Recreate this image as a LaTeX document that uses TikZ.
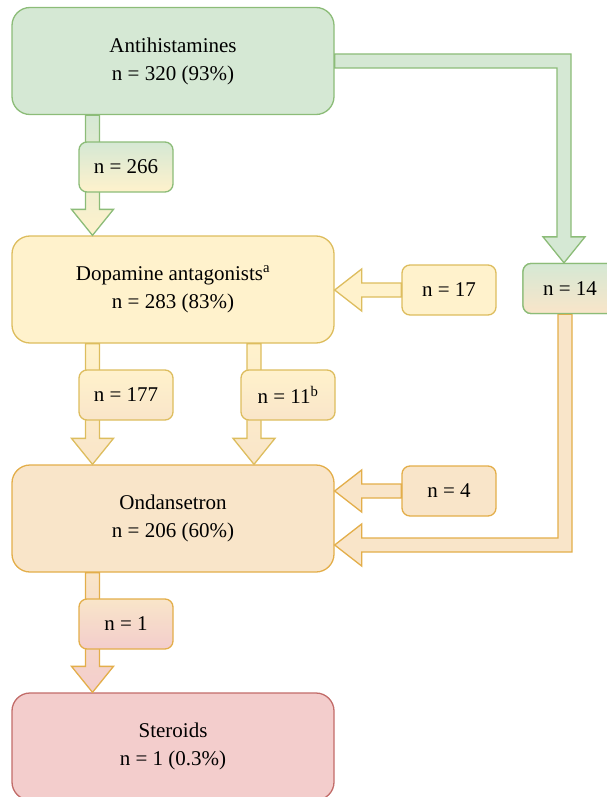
\documentclass[tikz,border=0pt]{standalone}
\usepackage{fontspec}
\setmainfont{Liberation Serif}
\usepackage{tikz}
\usetikzlibrary{calc}
\definecolor{grfill}{HTML}{D5E8D4}
\definecolor{grline}{HTML}{8CBC78}
\definecolor{yefill}{HTML}{FFF2CC}
\definecolor{yeline}{HTML}{DDBD5E}
\definecolor{orfill}{HTML}{F9E5C9}
\definecolor{orline}{HTML}{E3AE4A}
\definecolor{rdfill}{HTML}{F3CDCC}
\definecolor{rdline}{HTML}{C26C69}
\newcommand{\fs}{\fontsize{21}{28}\selectfont}
% block arrow pointing down: style, start, tip
\newcommand{\downblk}[3]{%
  \draw[#1] ($(#2)+(-7,0)$) -- ($(#3)+(-7,-26)$) -- ($(#3)+(-21,-26)$) -- (#3)
    -- ($(#3)+(21,-26)$) -- ($(#3)+(7,-26)$) -- ($(#2)+(7,0)$) -- cycle;}
% block arrow pointing left: style, start, tip
\newcommand{\leftblk}[3]{%
  \draw[#1] ($(#2)+(0,-7)$) -- ($(#3)+(27,-7)$) -- ($(#3)+(27,-21)$) -- (#3)
    -- ($(#3)+(27,21)$) -- ($(#3)+(27,7)$) -- ($(#2)+(0,7)$) -- cycle;}

\begin{document}
\begin{tikzpicture}[x=1pt, y=-1pt,
    bigbox/.style={draw, rounded corners=18pt, minimum width=322pt, minimum height=107pt,
      line width=1.3pt, align=center, font=\fs},
    lblbox/.style={draw, rounded corners=8pt, minimum width=94pt, minimum height=50pt,
      line width=1.3pt, font=\fs},
    flow/.style={line width=1.3pt, line join=miter}]
  \useasboundingbox (0,0) rectangle (606,797);

  % main boxes
  \node[bigbox, fill=grfill, draw=grline] (anti) at (173,61) {Antihistamines\\n = 320 (93\%)};
  \node[bigbox, fill=yefill, draw=yeline] (dopa) at (173,289.5) {Dopamine antagonists\textsuperscript{a}\\n = 283 (83\%)};
  \node[bigbox, fill=orfill, draw=orline] (onda) at (173,518.5) {Ondansetron\\n = 206 (60\%)};
  \node[bigbox, fill=rdfill, draw=rdline] (ster) at (173,746.5) {Steroids\\n = 1 (0.3\%)};

  % columns and bends of the connectors
  \coordinate (colA) at (92.5,0);
  \coordinate (colB) at (254,0);
  \coordinate (bendA) at (564,61);
  \coordinate (bendB) at (565,545);

  % vertical connectors
  \downblk{flow, draw=grline, top color=grfill, bottom color=yefill}{anti.south -| colA}{dopa.north -| colA}
  \downblk{flow, draw=yeline, top color=yefill, bottom color=orfill}{dopa.south -| colA}{onda.north -| colA}
  \downblk{flow, draw=yeline, top color=yefill, bottom color=orfill}{dopa.south -| colB}{onda.north -| colB}
  \downblk{flow, draw=orline, top color=orfill, bottom color=rdfill}{onda.south -| colA}{ster.north -| colA}

  % side boxes
  \node[lblbox, fill=yefill, draw=yeline] (n17) at (449,290) {n = 17};
  \node[lblbox, fill=orfill, draw=orline] (n4) at (449,491) {n = 4};
  \leftblk{flow, draw=yeline, fill=yefill}{n17.west}{dopa.east |- n17.west}
  \leftblk{flow, draw=orline, fill=orfill}{n4.west}{onda.east |- n4.west}

  % right hand path
  \node[lblbox, draw=grline, top color=grfill, bottom color=orfill] (n14) at (570,288.5) {n = 14};
  \draw[flow, draw=grline, fill=grfill] ($(anti.east)+(0,-7)$) -- ($(bendA)+(7,-7)$)
    -- ($(n14.north -| bendA)+(7,-26)$) -- ($(n14.north -| bendA)+(21,-26)$) -- (n14.north -| bendA)
    -- ($(n14.north -| bendA)+(-21,-26)$) -- ($(n14.north -| bendA)+(-7,-26)$)
    -- ($(bendA)+(-7,7)$) -- ($(anti.east)+(0,7)$) -- cycle;
  \draw[flow, draw=orline, fill=orfill] ($(n14.south -| bendB)+(-7,0)$) -- ($(bendB)+(-7,-7)$)
    -- ($(onda.east |- bendB)+(27,-7)$) -- ($(onda.east |- bendB)+(27,-21)$) -- (onda.east |- bendB)
    -- ($(onda.east |- bendB)+(27,21)$) -- ($(onda.east |- bendB)+(27,7)$)
    -- ($(bendB)+(7,7)$) -- ($(n14.south -| bendB)+(7,0)$) -- cycle;
  \node[lblbox, draw=grline, top color=grfill, bottom color=orfill] at (n14) {n = 14};

  % labels on the vertical connectors
  \node[lblbox, draw=grline, top color=grfill, bottom color=yefill] (n266) at (126,167) {n = 266};
  \node[lblbox, draw=yeline, top color=yefill, bottom color=orfill] (n177) at (126,395) {n = 177};
  \node[lblbox, draw=yeline, top color=yefill, bottom color=orfill] (n11) at (288,395) {n = 11\textsuperscript{b}};
  \node[lblbox, draw=orline, top color=orfill, bottom color=rdfill] (n1) at (126,624) {n = 1};
\end{tikzpicture}
\end{document}
